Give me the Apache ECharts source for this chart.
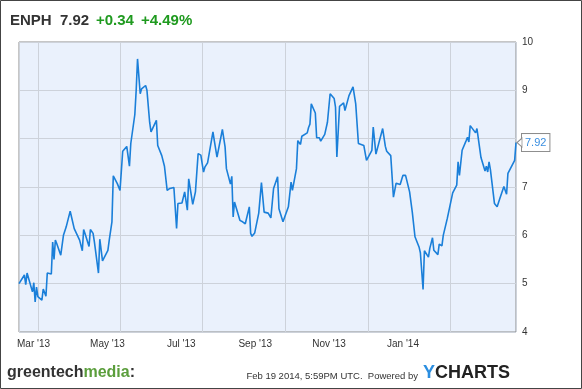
<!DOCTYPE html>
<html><head><meta charset="utf-8">
<script src="https://cdn.jsdelivr.net/npm/echarts@6/dist/echarts.min.js"></script>
<style>html,body{margin:0;padding:0;background:#fff}#c{width:582px;height:389px}</style>
</head><body><div id="c"></div>
<script>
const dates = [
 '2013-02-15','2013-02-19','2013-02-20','2013-02-21','2013-02-22','2013-02-25','2013-02-26','2013-02-27','2013-02-28',
 '2013-03-01','2013-03-04','2013-03-05','2013-03-06','2013-03-07','2013-03-08','2013-03-11','2013-03-12','2013-03-13','2013-03-14','2013-03-15','2013-03-18','2013-03-20','2013-03-21','2013-03-22','2013-03-25','2013-03-26','2013-03-28',
 '2013-04-01','2013-04-02','2013-04-03','2013-04-04','2013-04-05','2013-04-08','2013-04-09','2013-04-11','2013-04-12','2013-04-15','2013-04-16','2013-04-18','2013-04-22','2013-04-23','2013-04-25','2013-04-26','2013-04-29',
 '2013-05-01','2013-05-03','2013-05-06','2013-05-08','2013-05-09','2013-05-12','2013-05-13','2013-05-14','2013-05-16','2013-05-17','2013-05-20','2013-05-21','2013-05-23','2013-05-24','2013-05-28','2013-05-29',
 '2013-06-01','2013-06-03','2013-06-05','2013-06-07','2013-06-10','2013-06-12','2013-06-13','2013-06-14','2013-06-16','2013-06-18','2013-06-20','2013-06-21','2013-06-24','2013-06-26','2013-06-28','2013-06-30',
 '2013-07-02','2013-07-03','2013-07-05','2013-07-09','2013-07-10','2013-07-12','2013-07-16','2013-07-18','2013-07-19','2013-07-22','2013-07-23','2013-07-24','2013-07-25','2013-07-29','2013-07-31',
 '2013-08-01','2013-08-02','2013-08-05','2013-08-06','2013-08-07','2013-08-09','2013-08-12','2013-08-14','2013-08-16','2013-08-19','2013-08-21','2013-08-23','2013-08-26','2013-08-27','2013-08-30',
 '2013-09-03','2013-09-05','2013-09-06','2013-09-09','2013-09-10','2013-09-12','2013-09-13','2013-09-17','2013-09-18','2013-09-19','2013-09-20','2013-09-23','2013-09-24','2013-09-26','2013-09-27','2013-09-30',
 '2013-10-02','2013-10-03','2013-10-04','2013-10-07','2013-10-08','2013-10-09','2013-10-11','2013-10-14','2013-10-15','2013-10-16','2013-10-18','2013-10-21','2013-10-23','2013-10-24','2013-10-25','2013-10-29','2013-10-31',
 '2013-11-04','2013-11-05','2013-11-07','2013-11-12','2013-11-14','2013-11-15','2013-11-18','2013-11-20','2013-11-22','2013-11-25','2013-11-26','2013-11-27','2013-11-29',
 '2013-12-02','2013-12-04','2013-12-06','2013-12-09','2013-12-10','2013-12-12','2013-12-13','2013-12-16','2013-12-17','2013-12-19','2013-12-20','2013-12-23','2013-12-24','2013-12-26','2013-12-27','2013-12-30','2013-12-31',
 '2014-01-03','2014-01-06','2014-01-07','2014-01-08','2014-01-10','2014-01-13','2014-01-14','2014-01-15','2014-01-16','2014-01-17','2014-01-20','2014-01-21','2014-01-24','2014-01-27','2014-01-28','2014-01-29','2014-01-30','2014-01-31',
 '2014-02-03','2014-02-04','2014-02-05','2014-02-07','2014-02-10','2014-02-11','2014-02-12','2014-02-13','2014-02-14','2014-02-18','2014-02-19'
];
const prices = [
 5.00,5.18,4.98,5.22,5.18,4.83,5.02,4.62,4.93,
 4.73,4.66,4.89,4.90,4.74,5.22,5.20,5.86,5.50,5.90,5.83,5.59,6.00,5.97,6.17,6.50,6.38,6.14,
 5.90,5.86,5.68,6.12,6.04,5.77,6.12,6.04,5.86,5.22,5.92,5.47,5.69,5.90,6.28,7.23,7.07,
 6.93,7.74,7.84,7.43,7.90,8.50,9.00,9.65,8.93,9.03,9.10,9.00,8.34,8.14,8.38,7.86,
 7.65,7.43,6.93,6.97,6.99,6.14,6.66,6.62,6.67,6.90,6.52,7.17,6.64,6.90,7.69,7.66,
 7.31,7.41,7.50,8.14,7.96,7.62,8.19,7.83,7.38,7.06,7.22,6.38,6.69,6.31,6.28,
 6.31,6.24,6.59,6.04,5.98,6.05,6.46,7.09,6.48,6.46,6.36,6.97,7.21,6.55,6.28,
 6.59,7.10,6.93,7.38,7.96,7.88,8.05,8.12,8.23,8.30,8.72,8.53,8.02,8.02,7.95,8.09,
 8.34,8.34,8.93,8.83,8.65,7.62,8.67,8.74,8.58,8.60,8.89,9.07,8.72,8.72,7.90,7.86,7.55,
 7.76,8.24,7.68,8.21,7.84,7.74,7.65,6.79,7.08,7.05,7.04,7.24,7.24,
 6.90,6.48,5.97,5.76,5.64,4.88,5.68,5.55,5.73,5.95,5.69,5.60,5.82,5.78,6.00,6.35,6.35,
 6.88,7.04,7.52,7.24,7.76,7.96,8.03,7.93,8.27,8.25,8.12,8.21,7.61,7.33,7.43,7.31,7.52,7.36,
 6.66,6.70,6.59,6.76,7.01,6.99,6.85,7.28,7.29,7.55,7.92
];
const xTickLabels = ["Mar '13","May '13","Jul '13","Sep '13","Nov '13","Jan '14"];
const yMin = 4, yMax = 10, yStep = 1;
const ticker = 'ENPH', lastPrice = '7.92', change = '+0.34', changePct = '+4.49%';
const stamp = 'Feb 19 2014, 5:59PM UTC.  Powered by';

const F = 'Arial, "Liberation Sans", sans-serif';
const chart = echarts.init(document.getElementById('c'), null, {renderer: 'canvas'});
const data = dates.map((d, i) => [d, prices[i]]);
const last = data[data.length - 1];
const GREEN = '#1f9a1f';

chart.setOption({
  animation: false,
  grid: [
    {left: 19, right: 66, top: 42, bottom: 57, show: true, backgroundColor: '#eaf1fc', borderColor: '#8c8c8c', borderWidth: 1},
    {left: 33.5, width: 369.5, top: 42, bottom: 57, show: false}
  ],
  xAxis: [
    {type: 'time', gridIndex: 0, min: dates[0], max: dates[dates.length - 1], splitNumber: 5,
     axisLine: {show: false}, axisTick: {show: false}, axisLabel: {show: false},
     splitLine: {show: true, lineStyle: {color: '#cdd2da', width: 1}}},
    {type: 'category', gridIndex: 1, data: xTickLabels, boundaryGap: false,
     axisLine: {show: false}, axisTick: {show: false}, splitLine: {show: false},
     axisLabel: {color: '#333', fontSize: 10, fontFamily: F, margin: 7, interval: 0}}
  ],
  yAxis: [
    {type: 'value', gridIndex: 0, position: 'right', min: yMin, max: yMax, interval: yStep,
     axisLine: {show: false}, axisTick: {show: false},
     axisLabel: {color: '#333', fontSize: 10, fontFamily: F, margin: 6},
     splitLine: {show: true, lineStyle: {color: '#cdd2da', width: 1}}},
    {type: 'value', gridIndex: 1, show: false, min: 0, max: 1}
  ],
  series: [{
    type: 'line', xAxisIndex: 0, yAxisIndex: 0, data: data,
    showSymbol: false, symbol: 'none',
    lineStyle: {color: '#1a7fd9', width: 1.6},
    endLabel: {show: true, formatter: p => p.value[1].toFixed(2), color: '#3a8ee0', fontSize: 11, fontFamily: F,
      backgroundColor: '#fff', borderColor: '#8c8c8c', borderWidth: 1, padding: [4, 3, 2, 3], distance: 6},
    markPoint: {
      silent: true, animation: false,
      symbol: 'triangle', symbolSize: [9, 5], symbolRotate: 90, symbolOffset: [3.5, 0],
      itemStyle: {color: '#fff', borderColor: '#8c8c8c', borderWidth: 1},
      label: {show: false},
      data: [{coord: last}]
    }
  }],
  graphic: [
    {type: 'rect', shape: {x: 0.5, y: 0.5, width: 581, height: 388}, style: {fill: 'none', stroke: '#444', lineWidth: 1}, silent: true},
    {type: 'text', x: 10, y: 21, style: {text: ticker, font: 'bold 15px ' + F, fill: '#333', verticalAlign: 'middle'}},
    {type: 'text', x: 60, y: 21, style: {text: lastPrice, font: 'bold 15px ' + F, fill: '#333', verticalAlign: 'middle'}},
    {type: 'text', x: 96, y: 21, style: {text: change, font: 'bold 15px ' + F, fill: GREEN, verticalAlign: 'middle'}},
    {type: 'text', x: 141, y: 21, style: {text: changePct, font: 'bold 15px ' + F, fill: GREEN, verticalAlign: 'middle'}},
    {type: 'text', x: 7, y: 373, style: {
      text: '{a|greentech}{b|media}{a|:}', verticalAlign: 'middle',
      rich: {a: {font: 'bold 16px ' + F, fill: '#333'}, b: {font: 'bold 16px ' + F, fill: '#5b9e3c'}}}},
    {type: 'text', x: 418, y: 376, style: {text: stamp, font: '9.5px ' + F, fill: '#333', align: 'right', verticalAlign: 'middle'}},
    {type: 'text', x: 423, y: 373, style: {
      text: '{y|Y}{c|CHARTS}', verticalAlign: 'middle',
      rich: {y: {font: 'bold 18px ' + F, fill: '#2b8ee0'}, c: {font: 'bold 18px ' + F, fill: '#222'}}}}
  ]
});
</script>
</body></html>
